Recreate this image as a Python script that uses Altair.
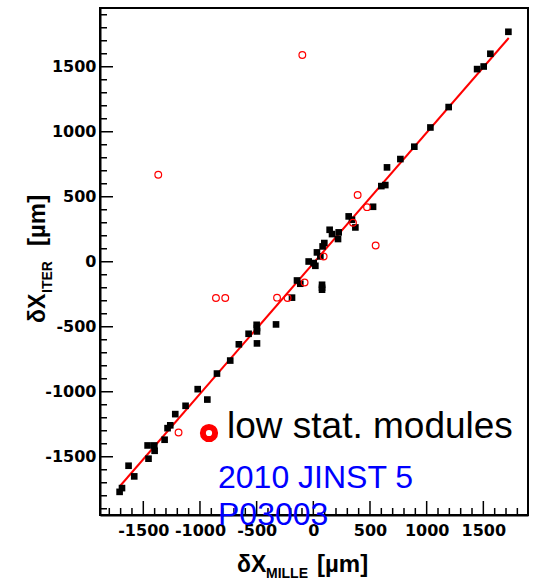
import altair as alt
import pandas as pd

# ---- data ----
good_x = [1721, 1562, 1503, 1445, 1194, 1033, 891, 768, 650, 635, 600, 527, 371, 312, 341,
          224, 218, 144, 165, 97, 82, 32, 62, -41, 3, 18, -144, -115, 77, 77, 77, -188,
          -329, -500, -497, -497, -571, -497, -657, -733, -850, -1020, -935, -1127, -1218,
          -1262, -1286, -1312, -1462, -1403, -1400, -1454, -1630, -1580, -1688, -1709]
good_y = [1769, 1600, 1502, 1482, 1190, 1033, 885, 790, 726, 590, 582, 423, 264, 349, 323,
          226, 175, 246, 213, 144, 118, 72, 41, 2, -10, -31, -144, -169, -177, -200, -215, -276,
          -482, -485, -510, -536, -554, -628, -635, -760, -860, -980, -1060, -1108, -1172,
          -1258, -1280, -1369, -1413, -1413, -1454, -1515, -1569, -1651, -1741, -1770]

low_x = [-97, -1368, 391, 474, 350, 550, 91, -77, -320, -227, -859, -777, -1189]
low_y = [1590, 669, 514, 420, 300, 125, 41, -159, -276, -279, -279, -279, -1313]

fit_x = [-1703, 1724]
fit_y = [-1723, 1721]

x_major = [-1500, -1000, -500, 0, 500, 1000, 1500]
y_major = [-1500, -1000, -500, 0, 500, 1000, 1500]
x_minor = [v for v in range(-1800, 1801, 100) if v % 500 != 0]
y_minor = [v for v in range(-1900, 1901, 100) if v % 500 != 0]

legend_label = "low stat. modules"
ref_lines = ["2010 JINST 5", "P03003"]

W, H = 428, 507
FONT = "Liberation Sans"

xs = alt.Scale(domain=[-1882, 1894], nice=False, zero=False)
ys = alt.Scale(domain=[-1948, 1952], nice=False, zero=False)

LBL = "datum.value + ''"
xaxis = alt.Axis(values=x_major, ticks=False, grid=False, title=None, labelFont="DejaVu Sans",
                 labelFontWeight="bold", labelFontSize=16, labelColor="black", labelPadding=7,
                 domainColor="black", domainWidth=2, labelFlush=False, labelOverlap=False,
                 labelExpr=LBL)
yaxis = alt.Axis(values=y_major, ticks=False, grid=False, title=None, labelFont="DejaVu Sans",
                 labelFontWeight="bold", labelFontSize=16, labelColor="black", labelPadding=4,
                 domainColor="black", domainWidth=2, labelOverlap=False, labelExpr=LBL)

X = alt.X("x:Q", scale=xs, axis=xaxis)
Y = alt.Y("y:Q", scale=ys, axis=yaxis)

good = alt.Chart(pd.DataFrame({"x": good_x, "y": good_y})).mark_point(
    shape="square", filled=True, color="black", size=44, opacity=1
).encode(x=X, y=Y)

low = alt.Chart(pd.DataFrame({"x": low_x, "y": low_y})).mark_point(
    shape="circle", filled=False, color="#ff0000", size=45, strokeWidth=1.2, opacity=1
).encode(x=X, y=Y)

fit = alt.Chart(pd.DataFrame({"x": fit_x, "y": fit_y})).mark_line(
    color="#ff0000", strokeWidth=2
).encode(x=X, y=Y)

xmaj = alt.Chart(pd.DataFrame({"x": x_major})).mark_rule(color="black", strokeWidth=1.5).encode(
    x=X, y=alt.value(H), y2=alt.value(H - 14))
xmin = alt.Chart(pd.DataFrame({"x": x_minor})).mark_rule(color="black", strokeWidth=1.5).encode(
    x=X, y=alt.value(H), y2=alt.value(H - 7))
ymaj = alt.Chart(pd.DataFrame({"y": y_major})).mark_rule(color="black", strokeWidth=1.5).encode(
    y=Y, x=alt.value(0), x2=alt.value(13))
ymin = alt.Chart(pd.DataFrame({"y": y_minor})).mark_rule(color="black", strokeWidth=1.5).encode(
    y=Y, x=alt.value(0), x2=alt.value(7))

one = pd.DataFrame({"k": [0]})

ring = alt.Chart(one).mark_point(shape="circle", filled=False, color="#ff0000", strokeWidth=6,
                                 size=150, opacity=1).encode(x=alt.value(109), y=alt.value(425))
leg_text = alt.Chart(one).mark_text(text=legend_label, font=FONT, fontSize=37, align="left",
                                    baseline="alphabetic", color="black").encode(
    x=alt.value(127), y=alt.value(430))
ref1 = alt.Chart(one).mark_text(text=ref_lines[0], font=FONT, fontSize=32, align="left",
                                baseline="alphabetic", color="#0000ff").encode(
    x=alt.value(118), y=alt.value(480))
ref2 = alt.Chart(one).mark_text(text=ref_lines[1], font=FONT, fontSize=32, align="left",
                                baseline="alphabetic", color="#0000ff").encode(
    x=alt.value(118), y=alt.value(517))

# axis titles with subscripts
def t(txt, x, y, size, angle=0, weight="bold"):
    return alt.Chart(one).mark_text(text=txt, font=FONT, fontSize=size, fontWeight=weight,
                                    align="left", baseline="alphabetic", angle=angle,
                                    color="black").encode(x=alt.value(x), y=alt.value(y))

xt1 = t("δX", 137, 564, 23)
xt2 = t("MILLE", 166, 570, 14)
xt3 = t("[µm]", 217, 564, 24)
yt1 = t("δX", -55, 315, 23, angle=270)
yt2 = t("ITER", -48, 285, 14, angle=270)
yt3 = t("[µm]", -55, 238, 24, angle=270)

chart = alt.layer(
    xmaj, xmin, ymaj, ymin, fit, good, low, ring, leg_text, ref1, ref2,
    xt1, xt2, xt3, yt1, yt2, yt3
).properties(
    width=W, height=H,
    autosize=alt.AutoSizeParams(type="none"),
    padding={"left": 100, "top": 8, "right": 9, "bottom": 65},
    background="white",
).configure_view(stroke="black", strokeWidth=2)

chart.save("out.html", embed_options={"renderer": "svg", "actions": False})
